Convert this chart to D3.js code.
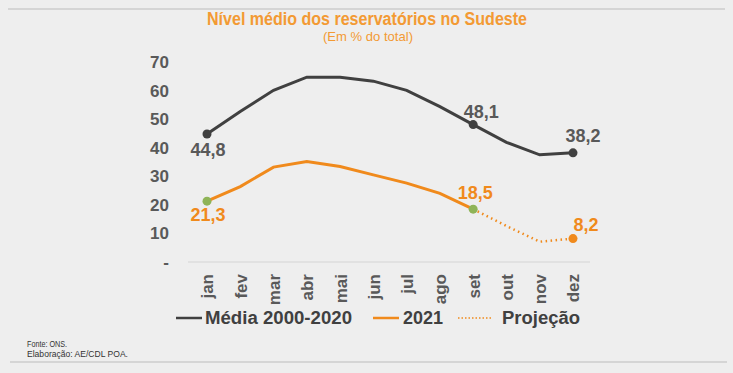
<!DOCTYPE html>
<html>
<head>
<meta charset="utf-8">
<script src="https://cdn.jsdelivr.net/npm/d3@7"></script>
<style>
  body { margin: 0; background: #eeeeee; }
  svg { display: block; }
</style>
</head>
<body>
<svg id="chart"></svg>
<script>
var months = ["jan", "fev", "mar", "abr", "mai", "jun", "jul", "ago", "set", "out", "nov", "dez"];
var media = [44.8, 52.7, 60.1, 64.7, 64.7, 63.3, 60.1, 54.4, 48.1, 41.9, 37.5, 38.2];
var ano2021 = [21.3, 26.4, 33.2, 35.2, 33.4, 30.5, 27.6, 24.0, 18.5];
var projecao = [null, null, null, null, null, null, null, null, 18.5, 12.6, 7.1, 8.2];
var yTicks = [0, 10, 20, 30, 40, 50, 60, 70];

var svg = d3.select("#chart")
    .attr("width", 733)
    .attr("height", 373);

var grey = "#404040";
var orange = "#f08a1c";
var green = "#8fb457";
var narrow = "Liberation Sans Narrow, Arial Narrow, Liberation Sans, sans-serif";
var sans = "Liberation Sans, Arial, sans-serif";

// frame lines
svg.append("line").attr("x1", 8).attr("x2", 725).attr("y1", 9).attr("y2", 9)
    .attr("stroke", "#bcbcbc").attr("stroke-width", 1);
svg.append("line").attr("x1", 10).attr("x2", 727).attr("y1", 362).attr("y2", 362)
    .attr("stroke", "#bcbcbc").attr("stroke-width", 1);

// titles
svg.append("text")
    .attr("x", 367).attr("y", 25)
    .attr("text-anchor", "middle")
    .attr("font-family", narrow)
    .attr("font-weight", "bold")
    .attr("font-size", 18)
    .attr("textLength", 320)
    .attr("lengthAdjust", "spacingAndGlyphs")
    .attr("fill", "#f39a33")
    .text("Nível médio dos reservatórios no Sudeste");
svg.append("text")
    .attr("x", 368).attr("y", 41)
    .attr("text-anchor", "middle")
    .attr("font-family", narrow)
    .attr("font-size", 13)
    .attr("textLength", 90)
    .attr("lengthAdjust", "spacingAndGlyphs")
    .attr("fill", "#f39a33")
    .text("(Em % do total)");

var x = d3.scalePoint().domain(months).range([207, 573]);
var y = d3.scaleLinear().domain([0, 70]).range([262, 62]);

// x axis baseline
svg.append("line").attr("x1", 188).attr("x2", 590).attr("y1", y(0)).attr("y2", y(0))
    .attr("stroke", "#d4d4d4").attr("stroke-width", 1);

var yAxis = svg.append("g")
    .attr("transform", "translate(169,0)")
    .call(d3.axisLeft(y).tickValues(yTicks).tickSize(0).tickPadding(0)
        .tickFormat(d => d === 0 ? "-" : d));
yAxis.select(".domain").remove();
yAxis.selectAll("text")
    .attr("font-family", sans)
    .attr("font-weight", "bold")
    .attr("font-size", 17)
    .attr("fill", "#595959");

var xAxis = svg.append("g")
    .attr("transform", "translate(0," + y(0) + ")")
    .call(d3.axisBottom(x).tickSize(0).tickPadding(0));
xAxis.select(".domain").remove();
xAxis.selectAll("text")
    .attr("transform", "rotate(-90)")
    .attr("text-anchor", "end")
    .attr("dx", "-12")
    .attr("dy", "0.35em")
    .attr("font-family", sans)
    .attr("font-weight", "bold")
    .attr("font-size", 17)
    .attr("fill", "#595959");

var line = d3.line()
    .x(d => x(d[0]))
    .y(d => y(d[1]));

svg.append("path")
    .datum(months.map((m, i) => [m, media[i]]))
    .attr("d", line)
    .attr("fill", "none")
    .attr("stroke", grey)
    .attr("stroke-width", 3);

svg.append("path")
    .datum(months.map((m, i) => [m, projecao[i]]).filter(d => d[1] !== null))
    .attr("d", line)
    .attr("fill", "none")
    .attr("stroke", orange)
    .attr("stroke-width", 2.5)
    .attr("stroke-dasharray", "1.5,3.5");

svg.append("path")
    .datum(ano2021.map((v, i) => [months[i], v]))
    .attr("d", line)
    .attr("fill", "none")
    .attr("stroke", orange)
    .attr("stroke-width", 3);

// markers
function marker(m, v, color) {
    svg.append("circle")
        .attr("cx", x(m)).attr("cy", y(v))
        .attr("r", 4.5)
        .attr("fill", color);
}
marker("jan", media[0], grey);
marker("set", media[8], grey);
marker("dez", media[11], grey);
marker("jan", ano2021[0], green);
marker("set", ano2021[8], green);
marker("dez", projecao[11], orange);

// data labels
function label(m, v, dx, dy, color) {
    svg.append("text")
        .attr("x", x(m) + dx).attr("y", y(v) + dy)
        .attr("text-anchor", "middle")
        .attr("font-family", sans)
        .attr("font-weight", "bold")
        .attr("font-size", 18)
        .attr("fill", color)
        .text(String(v).replace(".", ","));
}
label("jan", media[0], 1, 22, "#595959");
label("set", media[8], 8, -7, "#595959");
label("dez", media[11], 10, -11, "#595959");
label("jan", ano2021[0], 1, 20, orange);
label("set", ano2021[8], 2, -10, orange);
label("dez", projecao[11], 13, -8, orange);

// legend
var legend = [
    { name: "Média 2000-2020", color: grey, dash: null, x1: 176, x2: 202, tx: 205, w: 147 },
    { name: "2021", color: orange, dash: null, x1: 373, x2: 399, tx: 403, w: 40 },
    { name: "Projeção", color: orange, dash: "1.5,2", x1: 458, x2: 492, tx: 502, w: 78 }
];
legend.forEach(function(d) {
    svg.append("line")
        .attr("x1", d.x1).attr("x2", d.x2).attr("y1", 318).attr("y2", 318)
        .attr("stroke", d.color)
        .attr("stroke-width", d.dash ? 1.5 : 2.5)
        .attr("stroke-dasharray", d.dash);
    svg.append("text")
        .attr("x", d.tx).attr("y", 324)
        .attr("font-family", sans)
        .attr("font-weight", "bold")
        .attr("font-size", 18)
        .attr("textLength", d.w)
        .attr("lengthAdjust", "spacingAndGlyphs")
        .attr("fill", grey)
        .text(d.name);
});

// footer
svg.append("text").attr("x", 27).attr("y", 347)
    .attr("font-family", narrow)
    .attr("font-size", 9.5).attr("fill", "#333")
    .attr("textLength", 40).attr("lengthAdjust", "spacingAndGlyphs")
    .text("Fonte: ONS.");
svg.append("text").attr("x", 27).attr("y", 357)
    .attr("font-family", narrow)
    .attr("font-size", 9.5).attr("fill", "#333")
    .attr("textLength", 101).attr("lengthAdjust", "spacingAndGlyphs")
    .text("Elaboração: AE/CDL POA.");
</script>
</body>
</html>
